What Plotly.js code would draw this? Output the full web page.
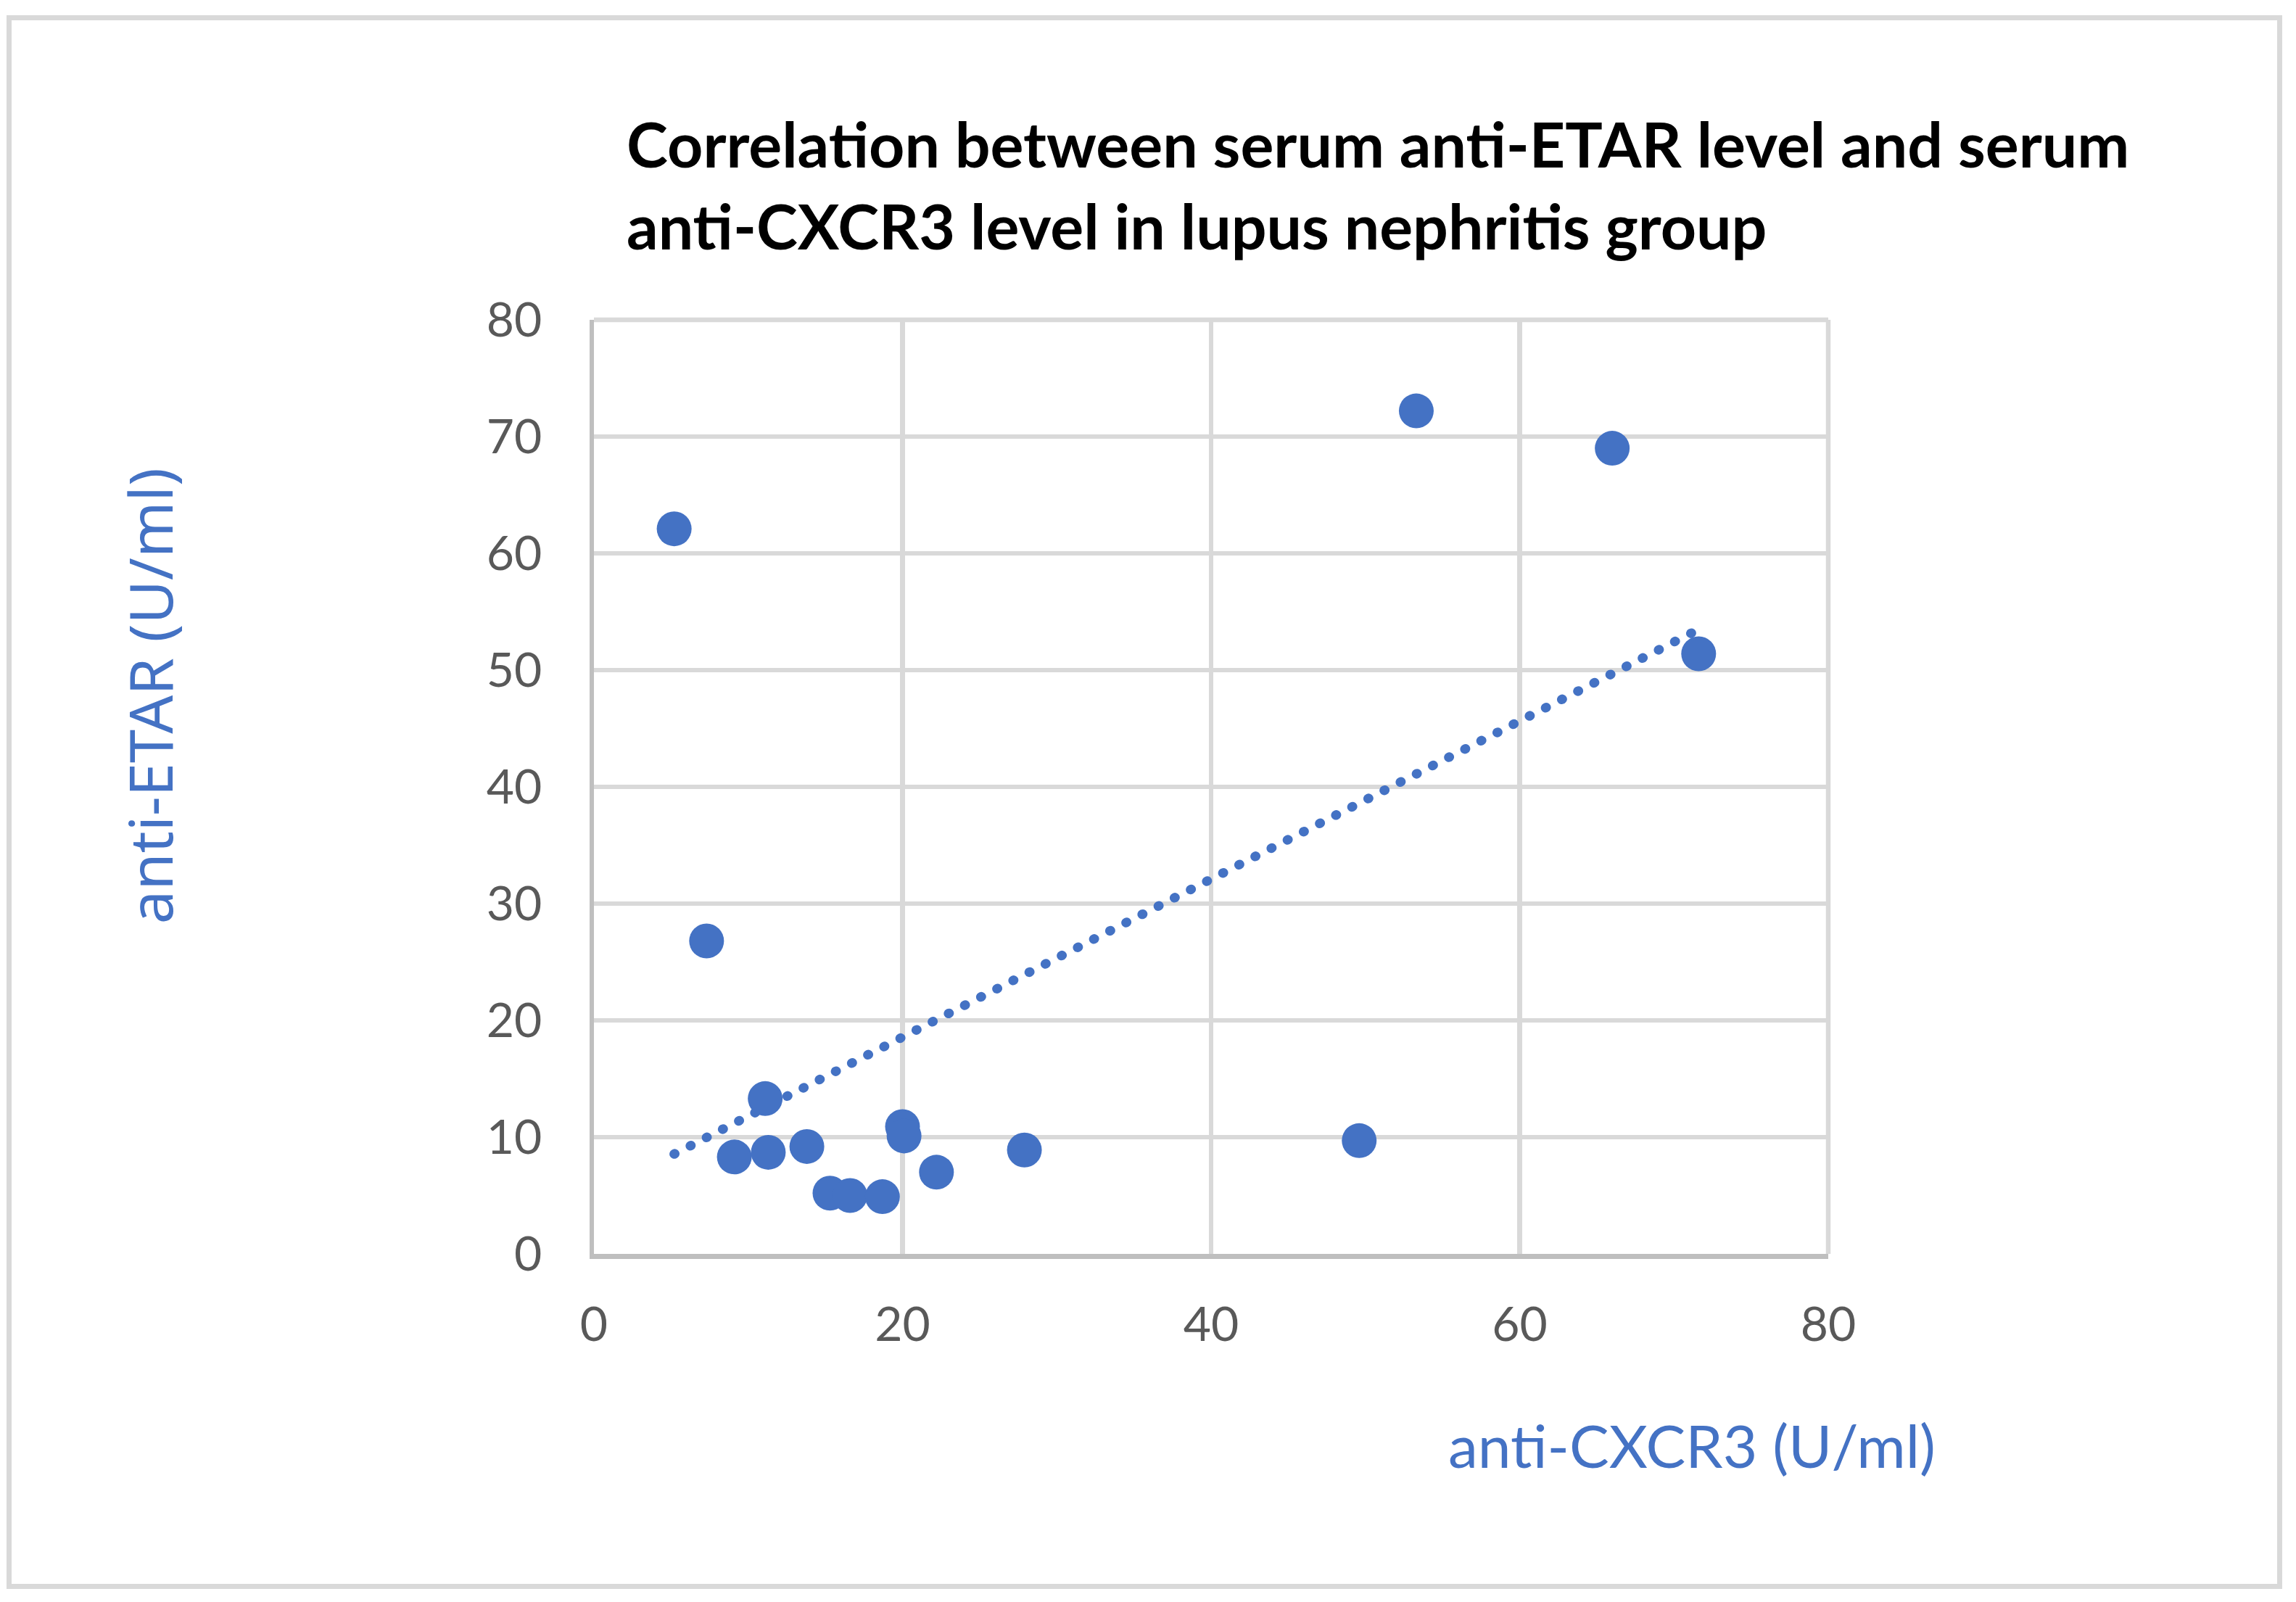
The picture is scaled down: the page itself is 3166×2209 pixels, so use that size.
<!DOCTYPE html>
<html>
<head>
<meta charset="utf-8">
<script src="https://cdn.plot.ly/plotly-3.0.1.min.js"></script>
<style>
html, body { margin: 0; padding: 0; background: #ffffff; }
#chart { width: 3166px; height: 2209px; }
.scatterlayer .js-line { stroke-linecap: round; }
</style>
</head>
<body>
<div id="chart"></div>
<script>
// anti-CXCR3 (U/ml) values
const antiCXCR3 = [5.2, 7.3, 11.1, 9.1, 11.3, 13.8, 15.3, 16.6, 18.7, 20.0, 20.1, 22.2, 27.9, 49.6, 53.3, 66.0, 71.6];
// anti-ETAR (U/ml) values
const antiETAR = [62.1, 26.8, 13.3, 8.3, 8.7, 9.2, 5.2, 5.0, 4.9, 10.9, 10.1, 7.0, 8.9, 9.7, 72.2, 69.0, 51.4];
const xTicks = [0, 20, 40, 60, 80];
const yTicks = [0, 10, 20, 30, 40, 50, 60, 70, 80];
const titleLines = ["Correlation between serum anti-ETAR level and serum", "anti-CXCR3 level in lupus nephritis group"];
const xTitle = "anti-CXCR3 (U/ml)";
const yTitle = "anti-ETAR (U/ml)";

// least-squares linear trendline over the data range
const n = antiCXCR3.length;
const mx = antiCXCR3.reduce((a, b) => a + b, 0) / n;
const my = antiETAR.reduce((a, b) => a + b, 0) / n;
let sxy = 0, sxx = 0;
for (let i = 0; i < n; i++) {
  sxy += (antiCXCR3[i] - mx) * (antiETAR[i] - my);
  sxx += (antiCXCR3[i] - mx) * (antiCXCR3[i] - mx);
}
const slope = sxy / sxx;
const intercept = my - slope * mx;
const xmin = Math.min(...antiCXCR3), xmax = Math.max(...antiCXCR3);
const trendX = [xmin, xmax];
const trendY = trendX.map(v => intercept + slope * v);

const blue = '#4472C4';

const traces = [
  {
    x: trendX, y: trendY, type: 'scatter', mode: 'lines',
    line: { color: blue, width: 13, dash: '1px,24px' },
    hoverinfo: 'skip', showlegend: false
  },
  {
    x: antiCXCR3, y: antiETAR, type: 'scatter', mode: 'markers',
    marker: { color: blue, size: 48, line: { width: 0 } },
    showlegend: false
  }
];

const layout = {
  width: 3166, height: 2209,
  margin: { l: 819, r: 645, t: 441, b: 480 },
  paper_bgcolor: '#ffffff', plot_bgcolor: '#ffffff',
  showlegend: false,
  xaxis: {
    range: [0, 80], tickvals: xTicks, ticktext: xTicks.map(String),
    showgrid: true, gridcolor: '#d9d9d9', gridwidth: 6.5,
    showline: true, linecolor: '#bfbfbf', linewidth: 6.5,
    zeroline: false, ticks: '', ticklabelstandoff: 34,
    tickfont: { family: 'Lato, sans-serif', size: 66, color: '#595959' }
  },
  yaxis: {
    range: [0, 80], tickvals: yTicks, ticktext: yTicks.map(String),
    showgrid: true, gridcolor: '#d9d9d9', gridwidth: 6.5,
    showline: true, linecolor: '#bfbfbf', linewidth: 6.5,
    zeroline: false, ticks: '', ticklabelstandoff: 52,
    tickfont: { family: 'Lato, sans-serif', size: 66, color: '#595959' }
  },
  annotations: [
    { text: '<b>' + titleLines[0] + '</b>', xref: 'paper', yref: 'paper', x: 0.0253, y: 1.1887,
      xanchor: 'left', yanchor: 'middle', showarrow: false,
      font: { family: 'Lato, sans-serif', size: 86, color: '#000000' } },
    { text: '<b>' + titleLines[1] + '</b>', xref: 'paper', yref: 'paper', x: 0.0253, y: 1.1017,
      xanchor: 'left', yanchor: 'middle', showarrow: false,
      font: { family: 'Lato, sans-serif', size: 86, color: '#000000' } },
    { text: xTitle, xref: 'paper', yref: 'paper', x: 0.8895, y: -0.204,
      xanchor: 'center', yanchor: 'middle', showarrow: false,
      font: { family: 'Lato, sans-serif', size: 82, color: blue } },
    { text: yTitle, xref: 'paper', yref: 'paper', x: -0.3607, y: 0.597, textangle: -90,
      xanchor: 'center', yanchor: 'middle', showarrow: false,
      font: { family: '"Noto Sans", sans-serif', size: 83, color: blue } }
  ],
  shapes: [
    { type: 'rect', xref: 'paper', yref: 'paper', x0: -0.47386, x1: 1.36575, y0: -0.35598, y1: 1.32337,
      line: { color: '#d9d9d9', width: 7 }, fillcolor: 'rgba(0,0,0,0)' },
    { type: 'line', xref: 'paper', yref: 'paper', x0: 0, x1: 1, y0: 1, y1: 1, layer: 'below',
      line: { color: '#d9d9d9', width: 6.5 } },
    { type: 'line', xref: 'paper', yref: 'paper', x0: 1, x1: 1, y0: 0, y1: 1, layer: 'below',
      line: { color: '#d9d9d9', width: 6.5 } }
  ]
};

Plotly.newPlot('chart', traces, layout, { staticPlot: true, displayModeBar: false });
</script>
</body>
</html>
